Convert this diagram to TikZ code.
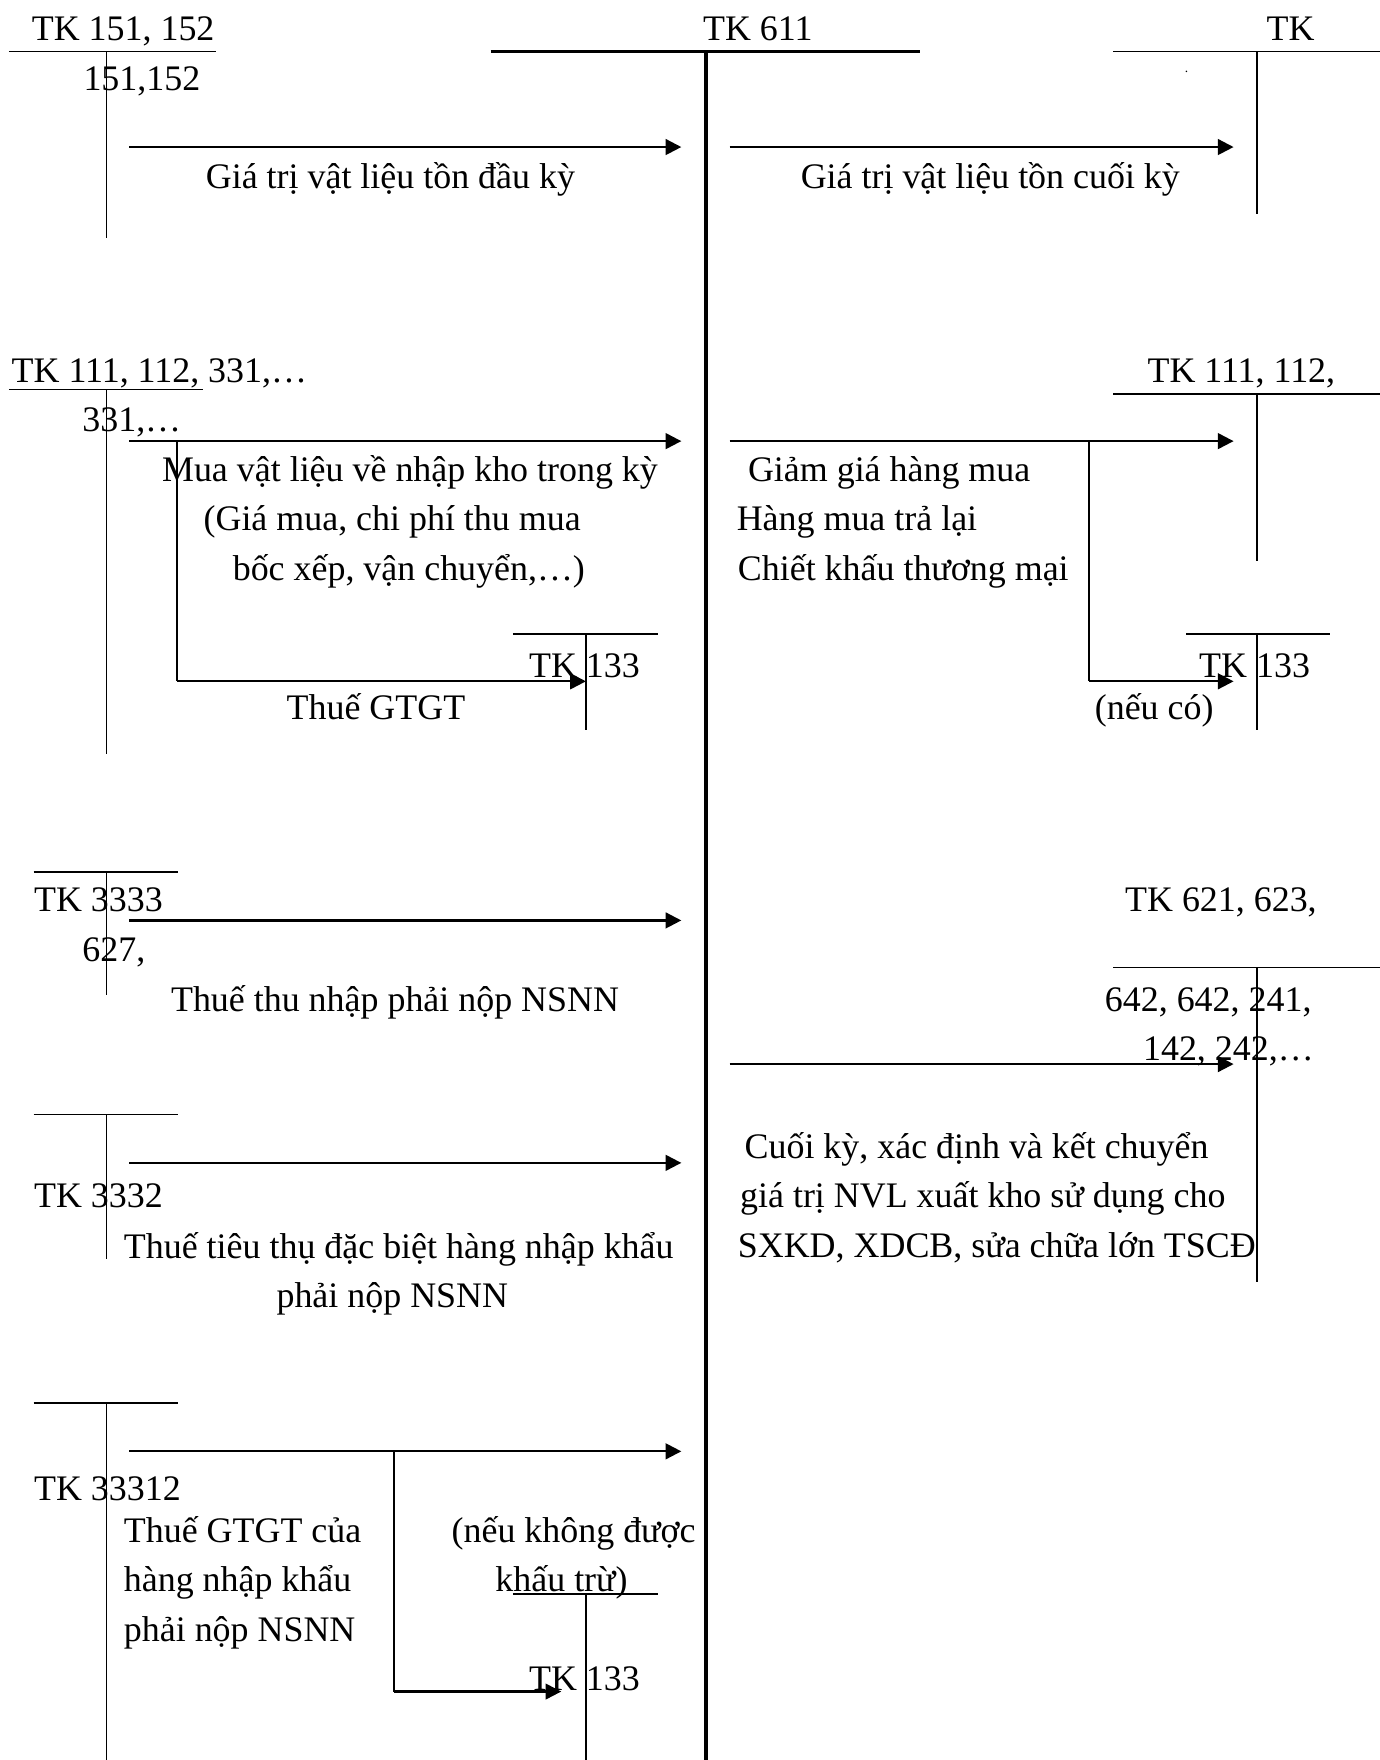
\documentclass[tikz,border=0pt]{standalone}
\usepackage{fontspec}
\setmainfont{Liberation Serif}
\usetikzlibrary{arrows.meta}
\tikzset{
  lbl/.style={inner sep=0pt, anchor=base west, font=\fontsize{16}{19}\selectfont},
  tline/.style={line width=0.75pt},
  mainline/.style={line width=1.5pt},
  flow/.style={line width=1pt, -{Triangle[length=7pt,width=7pt]}},
  branch/.style={line width=0.9pt}
}
\begin{document}
\begin{tikzpicture}[x=0.5pt,y=-0.5pt]
\useasboundingbox (0,0) rectangle (1229,1568);
\fill[white] (0,0) rectangle (1229,1568);

% ---------- TK 611 (central account)
\coordinate (m1) at (437,46); \coordinate (m2) at (820,46);
\coordinate (mt) at (629,46); \coordinate (mb) at (629,1568);
\draw[mainline] (m1) -- (m2);
\draw[mainline] (mt) -- (mb);
\node[lbl] (tk611) at (626,36) {TK 611};

% ---------- TK 151, 152
\coordinate (a1) at (8,46); \coordinate (a2) at (192,46);
\coordinate (at) at (95,46); \coordinate (ab) at (95,212);
\draw[tline] (a1) -- (a2); \draw[tline] (at) -- (ab);
\node[lbl] (tka) at (28,36) {TK 151, 152};
\node[lbl] (tka2) at (74,81) {151,152};
\coordinate (f1s) at (115,131); \coordinate (f1e) at (607,131);
\draw[flow] (f1s) -- (f1e);
\node[lbl] (l1) at (183,168) {Giá trị vật liệu tồn đầu kỳ};

% ---------- TK (top right)
\coordinate (b1) at (992,46); \coordinate (b2) at (1229,46);
\coordinate (bt) at (1120,46); \coordinate (bb) at (1120,191);
\draw[tline] (b1) -- (b2); \draw[tline] (bt) -- (bb);
\node[lbl] (tkb) at (1128,36) {TK};
\node[inner sep=0pt, font=\fontsize{6}{7}\selectfont] (dot) at (1057,64) {.};
\coordinate (f2s) at (650,131); \coordinate (f2e) at (1099,131);
\draw[flow] (f2s) -- (f2e);
\node[lbl] (l2) at (713,168) {Giá trị vật liệu tồn cuối kỳ};

% ---------- TK 111, 112, 331 (left)
\coordinate (c1) at (8,347); \coordinate (c2) at (181,347);
\coordinate (ct) at (95,347); \coordinate (cb) at (95,672);
\draw[tline] (c1) -- (c2); \draw[tline] (ct) -- (cb);
\node[lbl] (tkc) at (10,341) {TK 111, 112, 331,…};
\node[lbl] (tkc2) at (73,384) {331,…};
\coordinate (f3s) at (115,393); \coordinate (f3e) at (607,393);
\draw[flow] (f3s) -- (f3e);
\coordinate (f3b) at (158,393); \coordinate (f3c) at (158,607); \coordinate (f3d) at (522,607);
\draw[branch] (f3b) -- (f3c);
\draw[flow] (f3c) -- (f3d);
\node[lbl] (l3a) at (144,429) {Mua vật liệu về nhập kho trong kỳ};
\node[lbl] (l3b) at (181,473) {(Giá mua, chi phí thu mua};
\node[lbl] (l3c) at (207,517) {bốc xếp, vận chuyển,…)};
% TK 133 left
\coordinate (d1) at (457,565); \coordinate (d2) at (586,565);
\coordinate (dt) at (522,565); \coordinate (db) at (522,650);
\draw[tline] (d1) -- (d2); \draw[tline] (dt) -- (db);
\node[lbl] (tkd) at (471,604) {TK 133};
\node[lbl] (l3d) at (255,641) {Thuế GTGT};

% ---------- TK 111, 112 (right)
\coordinate (e1) at (992,351); \coordinate (e2) at (1229,351);
\coordinate (et) at (1120,351); \coordinate (eb) at (1120,500);
\draw[tline] (e1) -- (e2); \draw[tline] (et) -- (eb);
\node[lbl] (tke) at (1022,341) {TK 111, 112,};
\coordinate (f4s) at (650,393); \coordinate (f4e) at (1099,393);
\draw[flow] (f4s) -- (f4e);
\coordinate (f4b) at (970,393); \coordinate (f4c) at (970,607); \coordinate (f4d) at (1099,607);
\draw[branch] (f4b) -- (f4c);
\draw[flow] (f4c) -- (f4d);
\node[lbl] (l4a) at (666,429) {Giảm giá hàng mua};
\node[lbl] (l4b) at (656,473) {Hàng mua trả lại};
\node[lbl] (l4c) at (657,517) {Chiết khấu thương mại};
% TK 133 right
\coordinate (g1) at (1057,565); \coordinate (g2) at (1185,565);
\coordinate (gt) at (1120,565); \coordinate (gb) at (1120,650);
\draw[tline] (g1) -- (g2); \draw[tline] (gt) -- (gb);
\node[lbl] (tkg) at (1068,604) {TK 133};
\node[lbl] (l4d) at (975,641) {(nếu có)};

% ---------- TK 3333
\coordinate (h1) at (30,777); \coordinate (h2) at (159,777);
\coordinate (ht) at (95,777); \coordinate (hb) at (95,886);
\draw[tline] (h1) -- (h2); \draw[tline] (ht) -- (hb);
\node[lbl] (tkh) at (30,812) {TK 3333};
\node[lbl] (tkh2) at (73,857) {627,};
\coordinate (f5s) at (115,820); \coordinate (f5e) at (607,820);
\draw[flow] (f5s) -- (f5e);
\node[lbl] (l5) at (152,901) {Thuế thu nhập phải nộp NSNN};

% ---------- TK 621, 623 (right)
\node[lbl] (tki) at (1002,812) {TK 621, 623,};
\coordinate (i1) at (992,862); \coordinate (i2) at (1229,862);
\coordinate (it) at (1120,862); \coordinate (ib) at (1120,1142);
\draw[tline] (i1) -- (i2); \draw[tline] (it) -- (ib);
\node[lbl] (tki2) at (984,901) {642, 642, 241,};
\node[lbl] (tki3) at (1018,945) {142, 242,…};
\coordinate (f6s) at (650,948); \coordinate (f6e) at (1099,948);
\draw[flow] (f6s) -- (f6e);
\node[lbl] (l6a) at (663,1032) {Cuối kỳ, xác định và kết chuyển};
\node[lbl] (l6b) at (659,1076) {giá trị NVL xuất kho sử dụng cho};
\node[lbl] (l6c) at (657,1120) {SXKD, XDCB, sửa chữa lớn TSCĐ};

% ---------- TK 3332
\coordinate (j1) at (30,993); \coordinate (j2) at (159,993);
\coordinate (jt) at (95,993); \coordinate (jb) at (95,1122);
\draw[tline] (j1) -- (j2); \draw[tline] (jt) -- (jb);
\coordinate (f7s) at (115,1036); \coordinate (f7e) at (607,1036);
\draw[flow] (f7s) -- (f7e);
\node[lbl] (tkj) at (30,1076) {TK 3332};
\node[lbl] (l7a) at (110,1121) {Thuế tiêu thụ đặc biệt hàng nhập khẩu};
\node[lbl] (l7b) at (246,1165) {phải nộp NSNN};

% ---------- TK 33312
\coordinate (k1) at (30,1250); \coordinate (k2) at (159,1250);
\coordinate (kt) at (95,1250); \coordinate (kb) at (95,1568);
\draw[tline] (k1) -- (k2); \draw[tline] (kt) -- (kb);
\coordinate (f8s) at (115,1293); \coordinate (f8e) at (607,1293);
\draw[flow] (f8s) -- (f8e);
\coordinate (f8b) at (351,1293); \coordinate (f8c) at (351,1507); \coordinate (f8d) at (500,1507);
\draw[branch] (f8b) -- (f8c);
\draw[flow] (f8c) -- (f8d);
\node[lbl] (tkk) at (30,1337) {TK 33312};
\node[lbl] (l8a) at (110,1374) {Thuế GTGT của};
\node[lbl] (l8b) at (110,1418) {hàng nhập khẩu};
\node[lbl] (l8c) at (110,1462) {phải nộp NSNN};
\node[lbl] (l8d) at (402,1374) {(nếu không được};
\node[lbl] (l8e) at (441,1418) {khấu trừ)};
% TK 133 bottom
\coordinate (n1) at (457,1420); \coordinate (n2) at (586,1420);
\coordinate (nt) at (522,1420); \coordinate (nb) at (522,1568);
\draw[tline] (n1) -- (n2); \draw[tline] (nt) -- (nb);
\node[lbl] (tkn) at (471,1506) {TK 133};
\end{tikzpicture}
\end{document}
